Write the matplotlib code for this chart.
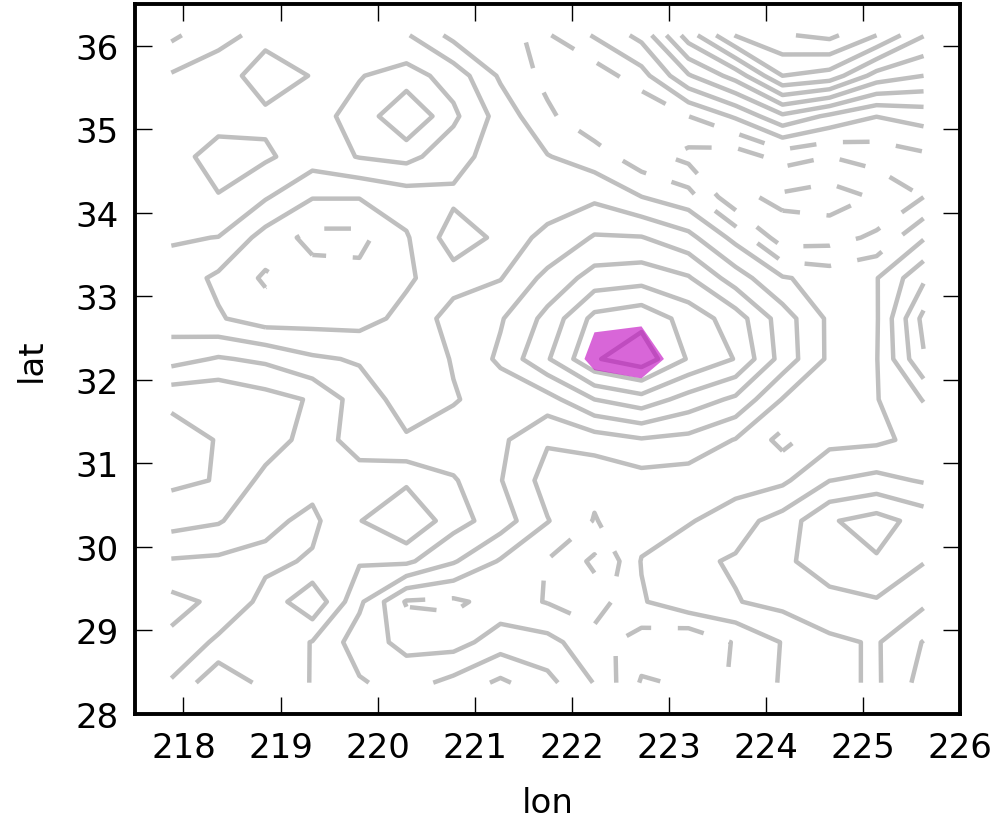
import numpy as np
import matplotlib
matplotlib.use("Agg")
import matplotlib.pyplot as plt

# Grid of the anomaly field (rows run north -> south, columns west -> east)
lon = np.linspace(217.875, 225.625, 17)
lat_north_to_south = np.linspace(36.125, 28.375, 17)

anomaly_rows = [
    [3.2, 2.3, 1.7, 1.6, 1.7, 1.1, -0.3, -0.9, -1.1, 0.1, 1.3, 4.5, 7.05, 7.9, 8.25, 7.0, 5.05],
    [1.9, 1.5, 2.5, 1.95, 1.95, 2.4, 1.6, -0.15, -1.3, -1.6, -0.4, 1.9, 3.4, 6.0, 5.6, 3.6, 3.0],
    [1.7, 1.6, 1.8, 1.7, 2.3, 4.0, 2.2, 0.6, -0.8, -1.8, -2.0, -1.0, 0.15, 1.8, 0.8, 0.02, 0.4],
    [1.6, 2.4, 2.15, 1.5, 2.05, 2.3, 1.4, 0.5, 0.05, -0.5, -1.6, -2.3, -2.6, -1.6, -2.0, -1.6, -1.2],
    [1.4, 1.95, 1.1, 0.05, 0.05, 0.5, 0.8, 0.9, 0.8, 0.8, 0.02, -0.6, -2.8, -3.2, -3.5, -2.9, -2.0],
    [1.1, 0.98, -0.4, -1.3, -1.3, -0.1, 1.5, 0.8, 1.1, 2.1, 2.05, 1.3, -0.3, -2.6, -2.4, -1.8, -0.1],
    [0.6, -0.2, -1.15, -0.6, -0.7, -0.15, 0.6, 0.95, 2.3, 3.4, 3.6, 3.1, 1.5, 0.1, -0.4, -0.05, 1.8],
    [0.5, 0.1, -0.5, -0.4, -0.4, 0.3, 1.4, 1.9, 3.3, 5.3, 5.7, 4.6, 3.5, 1.5, -0.2, -0.1, 3.3],
    [1.6, 2.1, 1.8, 1.15, 0.9, 0.5, 1.05, 2.2, 3.9, 5.9, 6.6, 4.9, 3.95, 1.6, -0.2, -0.05, 2.9],
    [3.8, 3.85, 3.4, 2.9, 1.5, 0.6, 0.95, 1.3, 1.6, 3.0, 3.6, 2.6, 1.8, -0.05, -0.6, -0.05, 1.05],
    [4.4, 3.95, 3.5, 2.6, 1.5, 1.1, 1.3, 1.2, 0.1, 0.5, 0.9, 0.7, -0.05, -1.3, -0.3, -0.2, 0.3],
    [4.2, 3.95, 2.7, 2.3, 2.5, 2.8, 2.1, 1.05, -0.4, -0.8, -0.4, -0.5, -0.5, -0.2, 0.98, 1.3, 0.9],
    [3.4, 3.1, 2.2, 1.8, 2.95, 4.0, 2.4, 1.5, 0.05, -1.05, -0.4, -0.1, 0.6, 1.4, 2.9, 3.4, 2.6],
    [1.9, 1.8, 1.8, 2.1, 2.1, 2.2, 1.1, -0.1, -1.05, -2.2, 0.05, 0.8, 1.1, 1.8, 2.5, 2.9, 2.05],
    [0.7, 1.2, 2.3, 3.8, 1.2, -1.1, -1.2, -0.6, -1.05, -1.5, -0.1, 0.7, 0.95, 1.3, 1.7, 1.9, 1.2],
    [1.2, 2.2, 2.8, 1.95, 0.5, -0.3, -0.4, 0.5, 0.3, -0.6, -1.5, -1.9, -0.9, 0.05, 0.8, 1.1, -0.05],
    [2.1, 3.8, 2.7, 1.95, 1.1, 0.6, 1.3, 2.2, 1.3, -0.05, -2.1, -1.9, -0.8, 0.1, 0.7, 1.15, -0.4],
]

# Core signal over the central high (columns 221.75..223.2 E, rows 33.2..31.8 N)
core_lon = lon[8:12]
core_lat_north_to_south = lat_north_to_south[6:10]
core_signal_rows = [
    [0.0, 0.0, 0.0, 0.0],
    [0.0, 0.43, 0.39, 0.0],
    [0.0, 0.635, 0.958, 0.0],
    [0.0, 0.145, 0.0, 0.0],
]
core_threshold = 0.5

contour_levels = list(range(-4, 10))

x_ticks = [218, 219, 220, 221, 222, 223, 224, 225, 226]
y_ticks = [28, 29, 30, 31, 32, 33, 34, 35, 36]

# rows flipped so latitude increases upward
lat = lat_north_to_south[::-1]
field = np.array(anomaly_rows)[::-1]
core_lat = core_lat_north_to_south[::-1]
core = np.array(core_signal_rows)[::-1]

plt.rcParams["lines.dashed_pattern"] = [6, 6]
plt.rcParams["lines.scale_dashes"] = True
plt.rcParams["contour.negative_linestyle"] = "dashed"
plt.rcParams["font.family"] = ["DejaVu Sans"]

fig = plt.figure(figsize=(9.96, 8.29), dpi=100)
ax = fig.add_axes([0.1355, 0.1375, 0.8283, 0.8565])

ax.contour(lon, lat, field, levels=contour_levels, colors="0.75",
           linewidths=3.2, zorder=2)

# translucent magenta patch where the core signal exceeds the threshold
ax.contourf(core_lon, core_lat, core, levels=[core_threshold, 10.0],
            colors=["m"], alpha=0.6, antialiased=True, zorder=3)

ax.set_xlim(217.5, 226.0)
ax.set_ylim(28.0, 36.5)
ax.set_xticks(x_ticks)
ax.set_yticks(y_ticks)
ax.tick_params(direction="in", top=True, right=True, length=12, width=1.0,
               labelsize=24.5, pad=12)
for sp in ax.spines.values():
    sp.set_linewidth(2.8)

ax.set_xlabel("lon", fontsize=24.5, labelpad=16)
ax.set_ylabel("lat", fontsize=24.5, labelpad=20)

fig.savefig("out.png", dpi=100)
